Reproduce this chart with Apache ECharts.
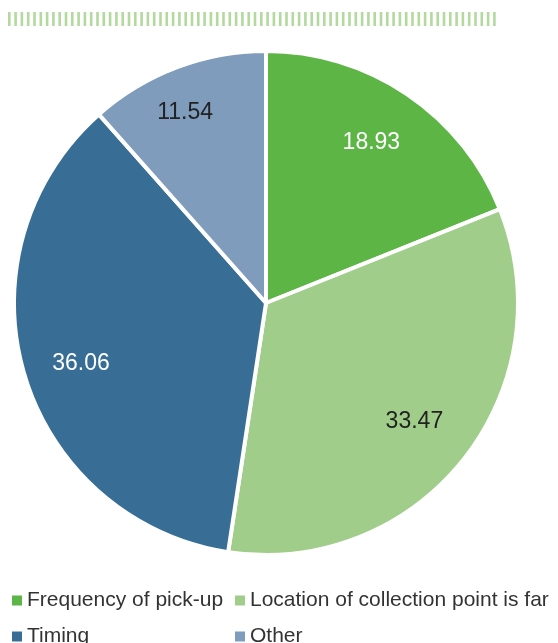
<!DOCTYPE html>
<html><head><meta charset="utf-8">
<script src="https://cdn.jsdelivr.net/npm/echarts@6/dist/echarts.min.js"></script>
<style>html,body{margin:0;padding:0;background:#fff}#c{width:558px;height:643px}</style>
</head><body><div id="c"></div>
<script>
const categories = ["Frequency of pick-up", "Location of collection point is far", "Timing", "Other"];
const values = [18.93, 33.47, 36.06, 11.54];
const colors = ["#5cb545", "#a0cd8a", "#386e96", "#7f9cbc"];
const labelColors = ["#ffffff", "#222222", "#ffffff", "#222222"];
const labelNudge = [[-5, 3], [-6, -4], [4, 5], [-11, -6]];

const chart = echarts.init(document.getElementById('c'));
const data = categories.map((n, i) => ({name: n, value: values[i], itemStyle: {color: colors[i]}}));
const labelData = categories.map((n, i) => ({name: n, value: values[i],
  label: {color: labelColors[i], offset: labelNudge[i]}}));
const font = "'Liberation Sans', Arial, sans-serif";
const legendPos = [[12, 590], [235, 590], [12, 626], [235, 626]];
const legends = categories.map((n, i) => ({
  data: [n], left: legendPos[i][0], top: legendPos[i][1], padding: 0,
  itemWidth: 10, itemHeight: 10, icon: 'rect', itemGap: 0,
  itemStyle: {borderWidth: 0},
  textStyle: {fontSize: 21, color: '#333', fontFamily: font, padding: [0, 0, 0, 0]}
}));
chart.setOption({
  animation: false,
  graphic: [{
    type: 'line', shape: {x1: 8, y1: 19, x2: 498, y2: 19},
    style: {stroke: '#b3d99f', lineWidth: 14, lineDash: [2.6, 3.7]}
  }],
  legend: legends,
  series: [{
    type: 'pie', center: [266, 303], radius: [0, 252], startAngle: 90, clockwise: true,
    data: data, label: {show: false}, labelLine: {show: false},
    itemStyle: {borderColor: '#fff', borderWidth: 4}, emphasis: {disabled: true}
  }, {
    type: 'pie', center: [266, 303], radius: [136, 252], startAngle: 90, clockwise: true,
    data: labelData, itemStyle: {color: 'rgba(0,0,0,0)'}, legendHoverLink: false,
    label: {show: true, position: 'inside', fontSize: 23, fontFamily: font,
      formatter: p => p.value.toFixed(2)},
    labelLine: {show: false}, emphasis: {disabled: true}, silent: true
  }]
});
</script></body></html>
